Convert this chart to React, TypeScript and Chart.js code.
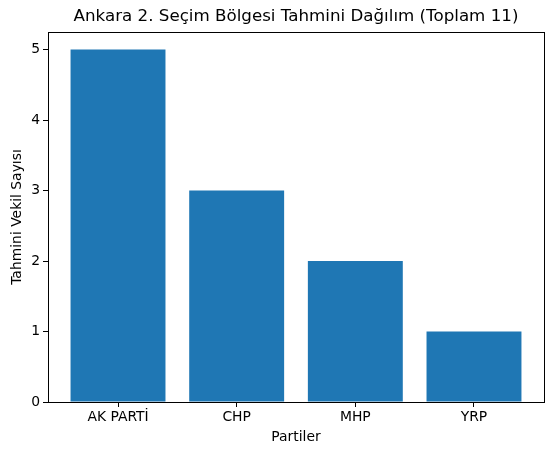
import { useEffect, useRef } from 'react';
import { Chart, registerables } from 'chart.js';

Chart.register(...registerables);

const parties = ['AK PARTİ', 'CHP', 'MHP', 'YRP'];
const seats = [5, 3, 2, 1];
const yTicks = [0, 1, 2, 3, 4, 5];

const FONT = "'DejaVu Sans', sans-serif";

// draws the title, axis labels and the box around the plot, matplotlib style
const framePlugin = {
  id: 'frame',
  afterDraw(chart: any) {
    const { ctx, chartArea } = chart;
    const { left, right, top, bottom } = chartArea;
    ctx.save();
    ctx.strokeStyle = '#000';
    ctx.lineWidth = 1;
    ctx.strokeRect(Math.round(left) + 0.5, Math.round(top) + 0.5, Math.round(right - left), Math.round(bottom - top));

    ctx.fillStyle = '#000';
    ctx.textAlign = 'center';
    ctx.textBaseline = 'middle';
    ctx.font = `16.7px ${FONT}`;
    ctx.fillText('Ankara 2. Seçim Bölgesi Tahmini Dağılım (Toplam 11)', (left + right) / 2, 17);

    ctx.font = `13.9px ${FONT}`;
    ctx.fillText('Partiler', (left + right) / 2, 437);

    ctx.translate(17, (top + bottom) / 2);
    ctx.rotate(-Math.PI / 2);
    ctx.fillText('Tahmini Vekil Sayısı', 0, 0);
    ctx.restore();
  },
};

const App = () => {
  const canvasRef = useRef<HTMLCanvasElement>(null);
  const chartRef = useRef<Chart | null>(null);

  useEffect(() => {
    if (!canvasRef.current) return;
    if (chartRef.current) chartRef.current.destroy();

    chartRef.current = new Chart(canvasRef.current, {
      type: 'bar',
      data: {
        datasets: [
          {
            data: seats.map((v, i) => ({ x: i, y: v })),
            backgroundColor: '#1f77b4',
            borderWidth: 0,
            inflateAmount: 0,
            barPercentage: 0.8,
            categoryPercentage: 1,
          },
        ],
      },
      options: {
        animation: false,
        responsive: false,
        devicePixelRatio: 1,
        layout: { padding: { left: 0, right: 10, top: 32, bottom: 0 } },
        plugins: {
          legend: { display: false },
          title: { display: false },
          tooltip: { enabled: false },
        },
        scales: {
          x: {
            type: 'linear',
            min: -0.59,
            max: 3.59,
            offset: false,
            afterFit: (s: any) => {
              s.height = 53;
            },
            afterBuildTicks: (s: any) => {
              s.ticks = parties.map((_, i) => ({ value: i }));
            },
            ticks: {
              color: '#000',
              font: { family: FONT, size: 13.9 },
              padding: 2,
              maxRotation: 0,
              callback: (v: any) => parties[v] ?? '',
            },
            grid: { offset: false, drawOnChartArea: false, drawTicks: true, tickLength: 5, color: '#000' },
            border: { display: false },
          },
          y: {
            type: 'linear',
            min: 0,
            max: 5.25,
            afterFit: (s: any) => {
              s.width = 48;
            },
            afterBuildTicks: (s: any) => {
              s.ticks = yTicks.map((v) => ({ value: v }));
            },
            ticks: {
              color: '#000',
              font: { family: FONT, size: 13.9 },
              padding: 3,
            },
            grid: { drawOnChartArea: false, drawTicks: true, tickLength: 5, color: '#000' },
            border: { display: false },
          },
        },
      },
      plugins: [framePlugin],
    });

    return () => {
      if (chartRef.current) {
        chartRef.current.destroy();
        chartRef.current = null;
      }
    };
  }, []);

  return (
    <div style={{ position: 'absolute', left: 0, top: 0, width: 554, height: 455, background: '#fff' }}>
      <canvas ref={canvasRef} width={554} height={455} />
    </div>
  );
};

export default App;
